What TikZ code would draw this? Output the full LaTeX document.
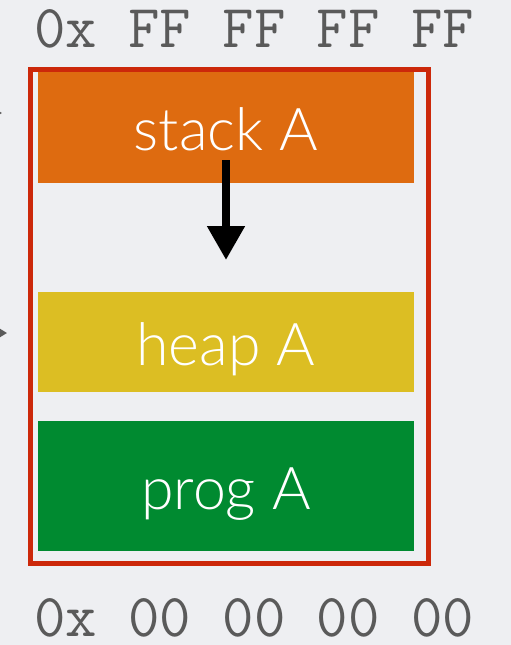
\documentclass[tikz,border=0pt]{standalone}
\usepackage{fontspec}
\newfontfamily\labelfont{Lato Light}
\usetikzlibrary{arrows.meta}
\definecolor{bg}{HTML}{EEEFF2}
\definecolor{frame}{HTML}{CC280A}
\definecolor{stackc}{HTML}{DE6B10}
\definecolor{heapc}{HTML}{DCBE23}
\definecolor{progc}{HTML}{008A30}
\definecolor{addr}{HTML}{5A5A5A}
\tikzset{
  segment/.style={draw=none, minimum width=376pt, anchor=north west, inner sep=0pt},
  seglabel/.style={text=white, font=\labelfont\fontsize{59}{59}\selectfont, anchor=base, inner sep=0pt},
  address/.style={text=addr, font=\ttfamily\fontsize{61}{61}\selectfont, anchor=base,
    inner sep=0pt, text depth=0pt},
  growth/.style={line width=8pt, -{Triangle[width=36pt,length=34pt]}},
  pointer/.style={line width=2pt, draw=addr, -{Triangle[width=8pt,length=7pt]}}
}
\begin{document}
\begin{tikzpicture}[x=1pt,y=-1pt]
  % page and background
  \fill[bg] (0,0) rectangle (511,645);
  \useasboundingbox (0,0) rectangle (511,645);

  % address labels
  \node[address] (top) at (254,47) {0x FF FF FF FF};
  \node[address] (bottom) at (254,636) {0x 00 00 00 00};

  % memory segments
  \node[segment, fill=stackc, minimum height=111pt] (stack) at (38,72) {};
  \node[seglabel] (stacklbl) at (226,150) {stack A};
  \node[segment, fill=heapc, minimum height=100pt] (heap) at (38,292) {};
  \node[seglabel] (heaplbl) at (226,365) {heap A};
  \node[segment, fill=progc, minimum height=130pt] (prog) at (38,421) {};
  \node[seglabel] (proglbl) at (226,509) {prog A};

  % address space frame
  \node[draw=frame, line width=5pt, minimum width=398pt, minimum height=494pt,
        anchor=north west, inner sep=0pt] (space) at (27.5,66.5) {};

  % stack growth direction
  \coordinate (gs) at (226,160);
  \coordinate (ge) at (226,260);
  \draw[growth] (gs) -- (ge);

  % pointers coming in from the left
  \coordinate (p1s) at (-20,113);
  \coordinate (p1e) at (2,113);
  \draw[pointer] (p1s) -- (p1e);
  \coordinate (p2s) at (-20,333);
  \coordinate (p2e) at (7,333);
  \draw[pointer] (p2s) -- (p2e);
\end{tikzpicture}
\end{document}
